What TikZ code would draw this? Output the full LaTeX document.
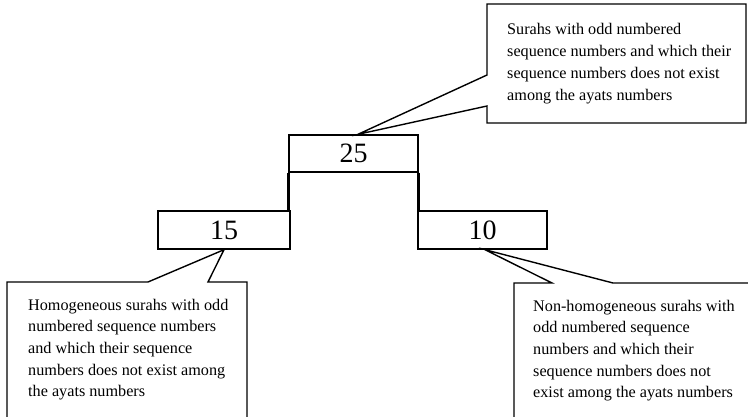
\documentclass[tikz,border=0pt]{standalone}
\usepackage{fontspec}
\setmainfont{Liberation Serif}
\usetikzlibrary{calc}
\begin{document}
\begin{tikzpicture}[x=1pt,y=-1pt,
  numbox/.style={draw,line width=1.4pt,inner sep=0pt,font=\fontsize{28}{32}\selectfont},
  callout/.style={draw,line width=1.4pt,line join=miter,fill=white},
  link/.style={line width=3pt},
  calltext/.style={anchor=base west,inner sep=0pt,font=\fontsize{16.2}{21.7}\selectfont}]
\useasboundingbox (0,0) rectangle (748,417);
% number boxes
\node[numbox,minimum width=129pt,minimum height=37pt] (n25) at (353.5,153.5) {25};
\node[numbox,minimum width=132pt,minimum height=38pt] (n15) at (224,230) {15};
\node[numbox,minimum width=129pt,minimum height=38pt] (n10) at (482.5,230) {10};
% links
\draw[link] (n25.south west) -- (n25.south west |- n15.north);
\draw[link] (n25.south east) -- (n25.south east |- n10.north);
% callout tips
\coordinate (t25) at ($(n25.north)+(4.5,0)$);
\coordinate (t15) at (n15.south);
\coordinate (t10) at ($(n10.south)+(2.5,0)$);
% callouts
\draw[callout] (487,75) -- (t25) -- (487,106) -- (487,123) -- (746,123) -- (746,4) -- (487,4) -- cycle;
\draw[callout] (7,418) -- (7,282) -- (148,282) -- (t15) -- (208,282) -- (247,282) -- (247,418);
\draw[callout] (514,418) -- (514,283) -- (552,283) -- (t10) -- (613,283) -- (750,283);
% texts
\node[calltext] (ct) at (507,35) {\begin{tabular}[t]{@{}l@{}}Surahs with odd numbered\\ sequence numbers and which their\\ sequence numbers does not exist\\ among the ayats numbers\end{tabular}};
\node[calltext] (cl) at (28,310) {\begin{tabular}[t]{@{}l@{}}Homogeneous surahs with odd\\ numbered sequence numbers\\ and which their sequence\\ numbers does not exist among\\ the ayats numbers\end{tabular}};
\node[calltext] (cr) at (533,311) {\begin{tabular}[t]{@{}l@{}}Non-homogeneous surahs with\\ odd numbered sequence\\ numbers and which their\\ sequence numbers does not\\ exist among the ayats numbers\end{tabular}};
\end{tikzpicture}
\end{document}
